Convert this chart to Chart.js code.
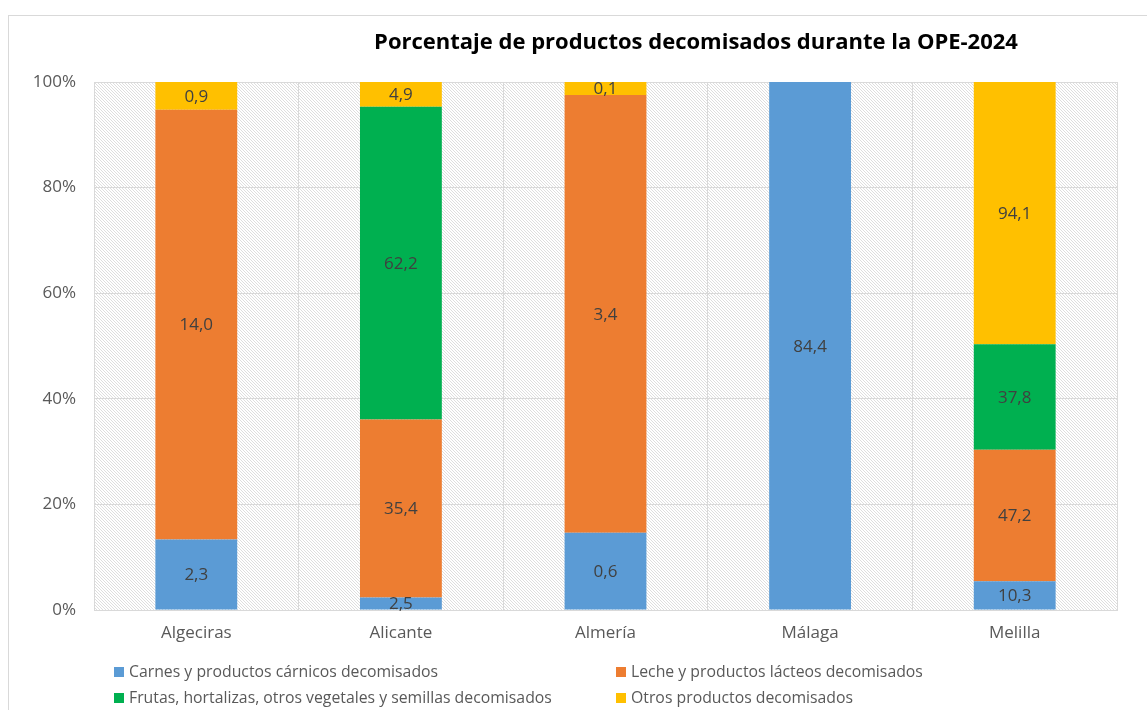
<!DOCTYPE html>
<html><head><meta charset="utf-8">
<script src="https://cdn.jsdelivr.net/npm/chart.js@4.4.1/dist/chart.umd.min.js"></script>
<style>
html,body{margin:0;padding:0;background:#fff;}
#wrap{position:relative;width:1147px;height:710px;overflow:hidden;}
#frame{position:absolute;left:8px;top:15px;width:1300px;height:900px;border:1px solid #d9d9d9;box-sizing:border-box;}
canvas{position:absolute;left:0;top:0;}
</style></head><body>
<div id="wrap"><div id="frame"></div><canvas id="c" width="1147" height="710"></canvas></div>
<script>
const categories = ['Algeciras', 'Alicante', 'Almería', 'Málaga', 'Melilla'];
const seriesNames = [
  'Carnes y productos cárnicos decomisados',
  'Leche y productos lácteos decomisados',
  'Frutas, hortalizas, otros vegetales y semillas decomisados',
  'Otros productos decomisados'
];
const carnes = [2.3, 2.5, 0.6, 84.4, 10.3];
const leche  = [14.0, 35.4, 3.4, 0, 47.2];
const frutas = [0, 62.2, 0, 0, 37.8];
const otros  = [0.9, 4.9, 0.1, 0, 94.1];
const seriesColors = ['#5B9BD5', '#ED7D31', '#00B050', '#FFC000'];
const yTickValues = [0, 20, 40, 60, 80, 100];
const titleText = 'Porcentaje de productos decomisados durante la OPE-2024';

const FONT = "'Open Sans', sans-serif";
const raw = [carnes, leche, frutas, otros];
const totals = categories.map((_, i) => raw.reduce((s, arr) => s + arr[i], 0));

function hatch() {
  const t = document.createElement('canvas');
  t.width = 3; t.height = 3;
  const g = t.getContext('2d');
  g.fillStyle = '#ffffff'; g.fillRect(0, 0, 3, 3);
  g.fillStyle = '#dedede';
  g.fillRect(0, 0, 1, 1);
  g.fillRect(1, 1, 1, 1);
  g.fillRect(2, 2, 1, 1);
  return t;
}

const bgPlugin = {
  id: 'bg',
  beforeDraw(chart) {
    const { ctx, chartArea: a } = chart;
    ctx.save();
    ctx.fillStyle = ctx.createPattern(hatch(), 'repeat');
    ctx.fillRect(a.left, a.top, a.right - a.left, a.bottom - a.top);
    ctx.restore();
  }
};

const labelPlugin = {
  id: 'vals',
  afterDatasetsDraw(chart) {
    const ctx = chart.ctx;
    ctx.save();
    ctx.font = '17px ' + FONT;
    ctx.fillStyle = '#404040';
    ctx.textAlign = 'center';
    ctx.textBaseline = 'middle';
    chart.data.datasets.forEach((ds, di) => {
      const meta = chart.getDatasetMeta(di);
      meta.data.forEach((el, i) => {
        const v = ds.rawValues[i];
        if (!v) return;
        const y = (el.y + el.base) / 2;
        ctx.fillText(v.toFixed(1).replace('.', ','), el.x, y + 1);
      });
    });
    ctx.restore();
  }
};

const titleLegendPlugin = {
  id: 'titleLegend',
  afterDraw(chart) {
    const ctx = chart.ctx;
    ctx.save();
    ctx.font = 'bold 22px ' + FONT;
    ctx.fillStyle = '#000000';
    ctx.textAlign = 'center';
    ctx.textBaseline = 'middle';
    ctx.fillText(titleText, 696, 43);
    ctx.font = '15.8px ' + FONT;
    ctx.textAlign = 'left';
    const pos = [[114, 672], [616, 672], [114, 698], [616, 698]];
    chart.data.datasets.forEach((ds, di) => {
      const [x, y] = pos[di];
      ctx.fillStyle = ds.backgroundColor;
      ctx.fillRect(x, y - 5, 10, 10);
      ctx.fillStyle = '#595959';
      ctx.fillText(ds.label, x + 15, y);
    });
    ctx.restore();
  }
};

new Chart(document.getElementById('c'), {
  type: 'bar',
  data: {
    labels: categories,
    datasets: seriesNames.map((name, k) => ({
      label: name,
      rawValues: raw[k],
      data: raw[k].map((v, i) => v / totals[i] * 100),
      backgroundColor: seriesColors[k],
      borderWidth: 0,
      categoryPercentage: 1,
      barPercentage: 0.4
    }))
  },
  options: {
    responsive: false,
    devicePixelRatio: 1,
    animation: false,
    layout: { padding: { top: 82, right: 30, bottom: 60, left: 0 } },
    plugins: { legend: { display: false }, title: { display: false }, tooltip: { enabled: false } },
    scales: {
      x: {
        stacked: true,
        grid: { color: '#d9d9d9', drawTicks: false, offset: true },
        border: { color: '#d9d9d9' },
        ticks: { color: '#595959', font: { family: FONT, size: 17 }, padding: 13 },
        afterFit(s) { s.height = 40; }
      },
      y: {
        stacked: true,
        min: 0, max: 100,
        afterBuildTicks(s) { s.ticks = yTickValues.map(v => ({ value: v })); },
        grid: { color: '#d9d9d9', drawTicks: false },
        border: { color: '#d9d9d9' },
        ticks: { color: '#595959', font: { family: FONT, size: 17 }, padding: 18, callback: v => v + '%' },
        afterFit(s) { s.width = 94; }
      }
    }
  },
  plugins: [bgPlugin, labelPlugin, titleLegendPlugin]
});
</script>
</body></html>
